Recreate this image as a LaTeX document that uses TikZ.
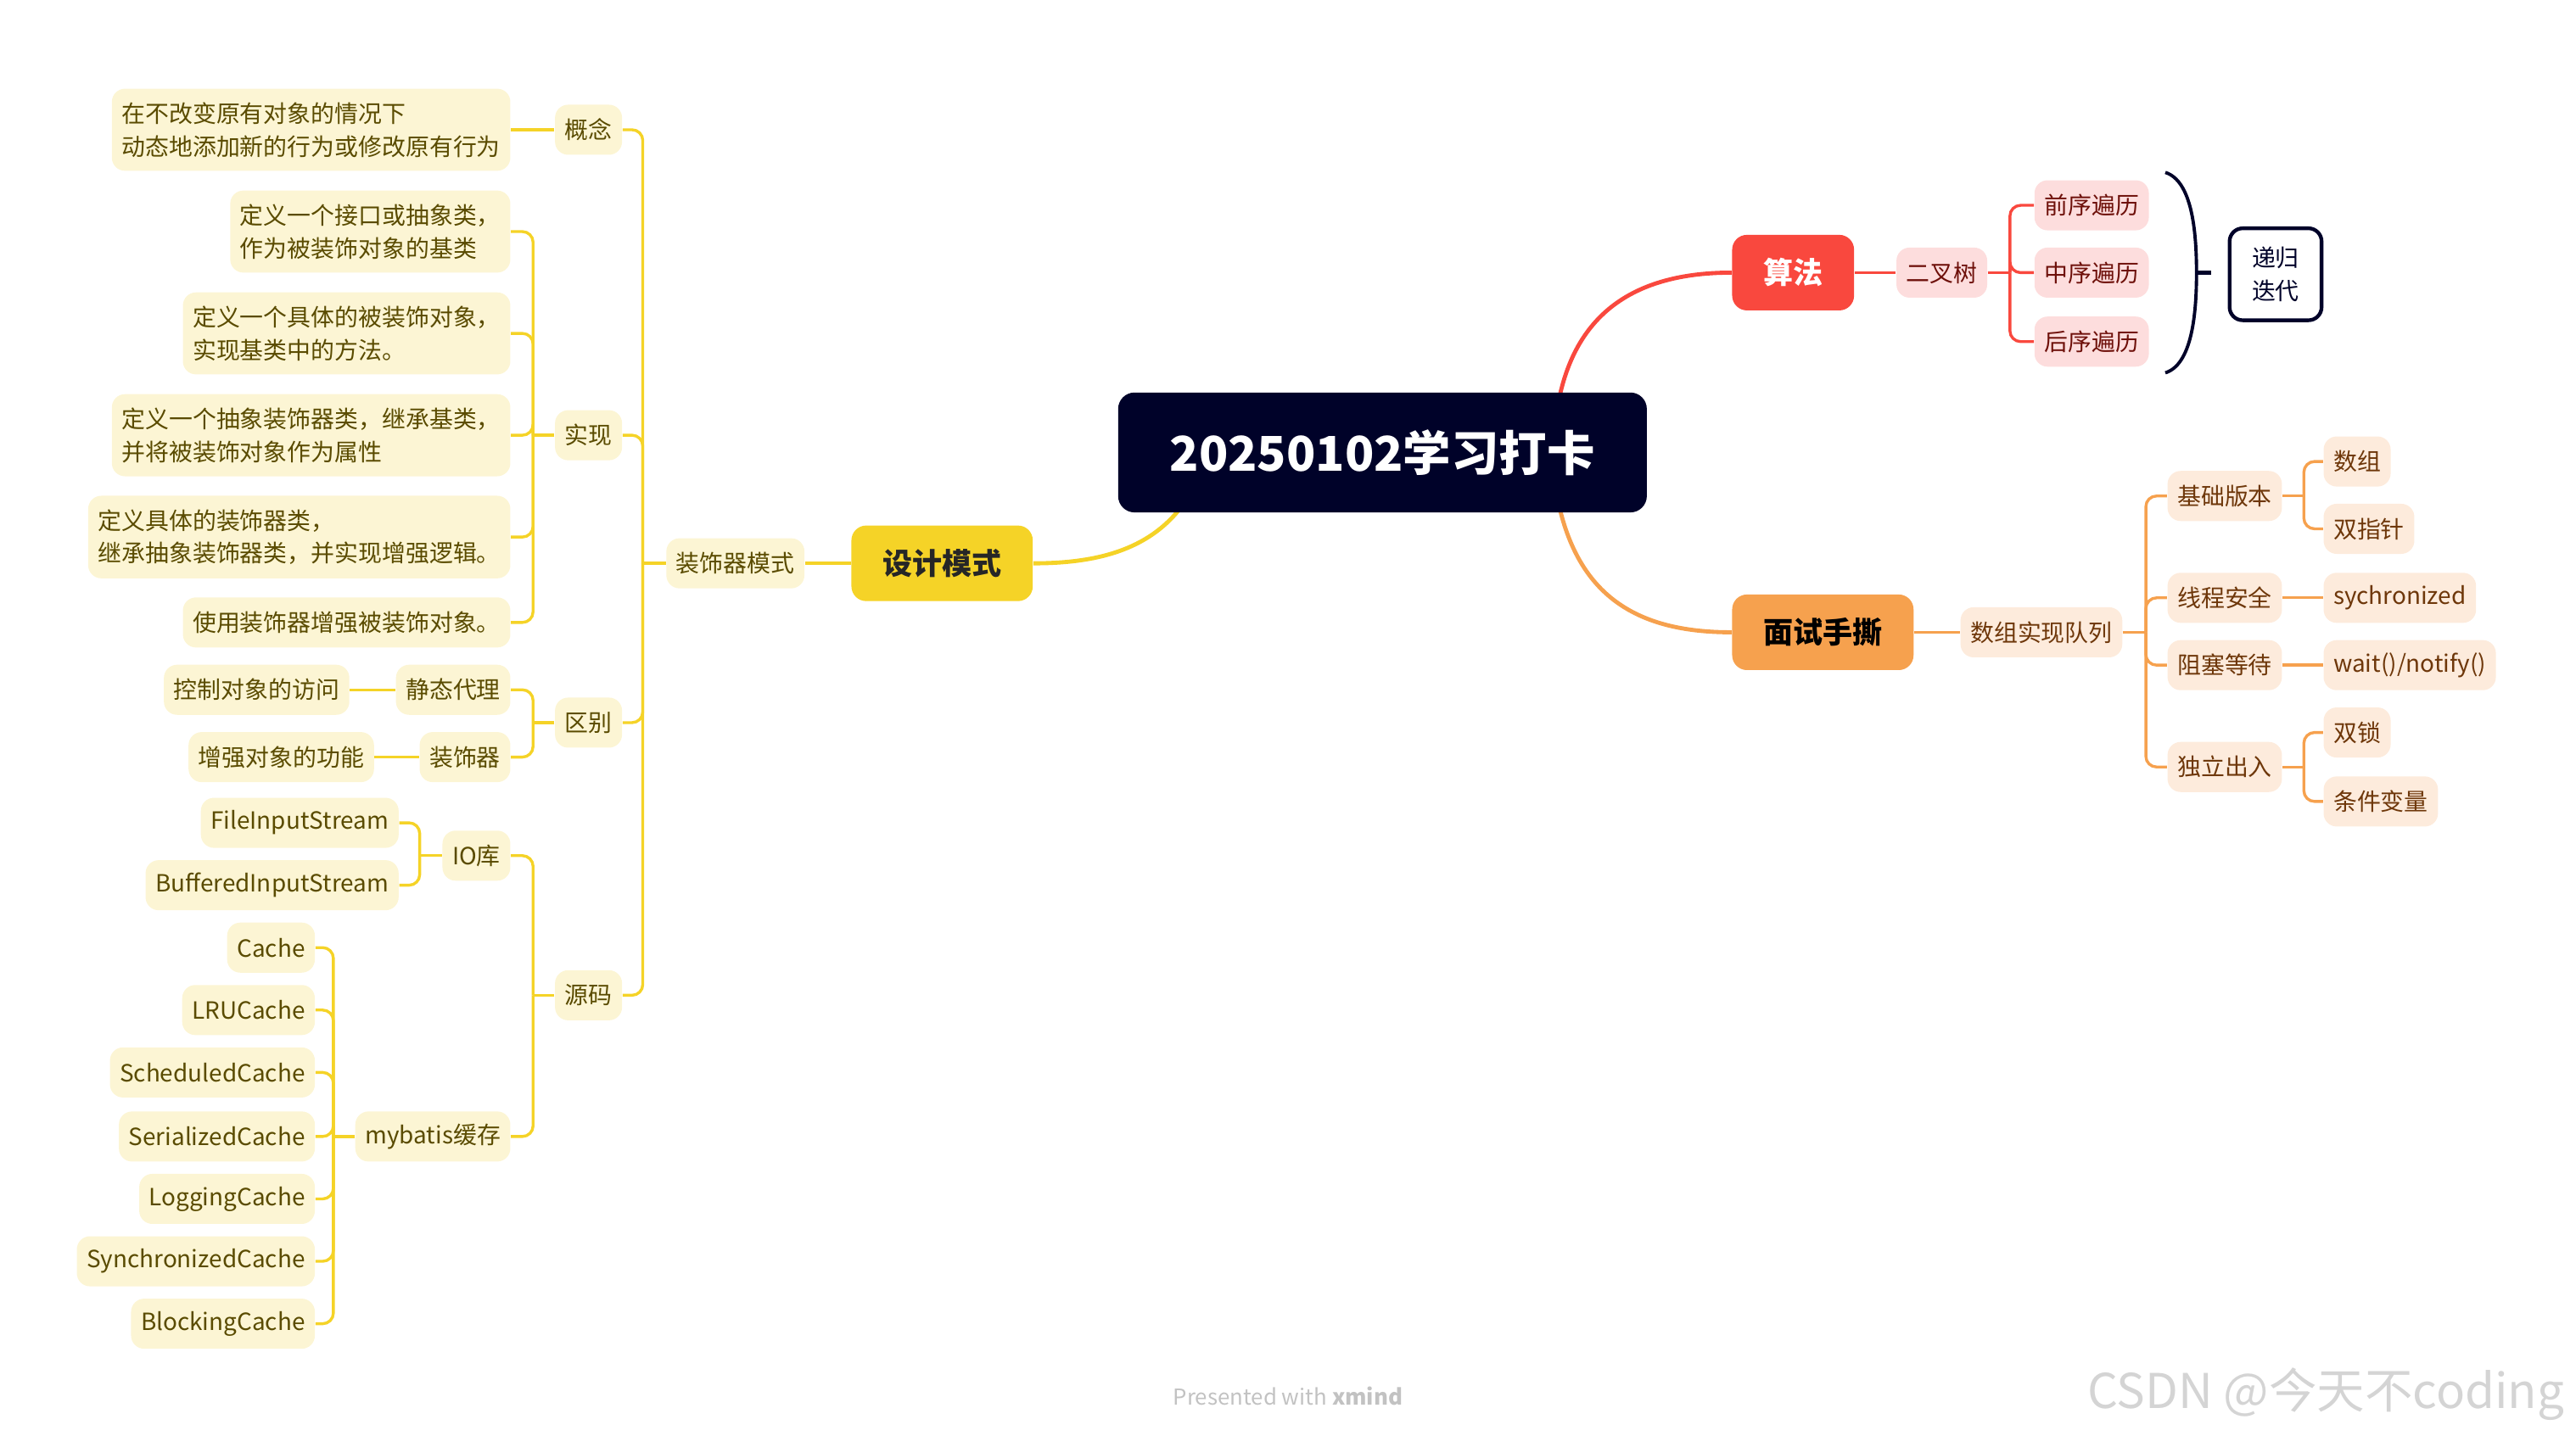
\documentclass[tikz,border=0pt]{standalone}
\usepackage{fontspec}
\setmainfont{Noto Sans CJK SC}
\usepackage{xcolor}
\usepackage{tikz}
\usetikzlibrary{positioning, backgrounds}
\definecolor{rootnavy}{HTML}{000229}
\definecolor{dsyellow}{HTML}{F5D327}
\definecolor{dsfill}{HTML}{FCF5D4}
\definecolor{dstext}{HTML}{5A4B00}
\definecolor{algred}{HTML}{F9483E}
\definecolor{algfill}{HTML}{FDDDDD}
\definecolor{algtext}{HTML}{6E100A}
\definecolor{itvorange}{HTML}{F6A14E}
\definecolor{itvfill}{HTML}{FDEBDC}
\definecolor{itvtext}{HTML}{6E370A}
\definecolor{footgrey}{HTML}{C2C2C2}
\definecolor{markgrey}{HTML}{D4D4D4}

\tikzset{
  topic/.style={rounded corners=1.6mm, inner xsep=1.2mm, inner ysep=0pt,
    minimum height=6.1mm, align=left, font=\fontsize{8.2}{11.4}\selectfont},
  twoline/.style={inner ysep=1.65mm},
  ytopic/.style={topic, fill=dsfill, text=dstext},
  rtopic/.style={topic, fill=algfill, text=algtext},
  otopic/.style={topic, fill=itvfill, text=itvtext},
  maintopic/.style={rounded corners=1.8mm, inner xsep=3.8mm, inner ysep=0pt,
    minimum height=9.2mm, font=\fontsize{10.3}{12}\selectfont\bfseries},
  rootbox/.style={fill=rootnavy, text=white, rounded corners=2mm,
    inner xsep=6.3mm, minimum height=14.6mm, font=\fontsize{16.6}{20}\selectfont\bfseries},
  yline/.style={draw=dsyellow, line width=0.35mm},
  rline/.style={draw=algred, line width=0.35mm},
  oline/.style={draw=itvorange, line width=0.35mm},
  elbow/.style={rounded corners=1.3mm},
  branchline/.style={line width=0.5mm},
}

\begin{document}
\begin{tikzpicture}[x=0.2mm, y=-0.2mm]
  \useasboundingbox (0,0) rectangle (1568,874);

  % central topic
  \node[rootbox] (root) at (841.5,275.5) {20250102学习打卡};

  % main topics
  \node[maintopic, fill=dsyellow, text=black!85, anchor=east] (design) at (629,343) {设计模式};
  \node[maintopic, fill=algred, text=white, anchor=west] (algo) at (1054,166) {算法};
  \node[maintopic, fill=itvorange, text=black, anchor=west] (interview) at (1054,385) {面试手撕};

  \begin{scope}[on background layer]
    \coordinate (ystart) at (726,298);
    \coordinate (rstart) at (947,255);
    \coordinate (ostart) at (947,298);
    \draw[dsyellow, branchline] (ystart) .. controls (706,334) and (670,343) .. (design.east);
    \draw[algred, branchline] (rstart) .. controls (954,200) and (985,166) .. (algo.west);
    \draw[itvorange, branchline] (ostart) .. controls (958,362) and (995,385) .. (interview.west);
  \end{scope}

  % ---- design patterns
  \node[ytopic, anchor=east] (deco) at (490,343) {装饰器模式};
  \draw[yline] (design.west) -- (deco.east);

  \node[ytopic, anchor=east] (concept) at (379,79) {概念};
  \node[ytopic, anchor=east] (impl) at (379,265) {实现};
  \node[ytopic, anchor=east] (diff) at (379,440) {区别};
  \node[ytopic, anchor=east] (src) at (379,606) {源码};
  \draw[yline] (deco.west) -- ++(-14,0) coordinate (deco-j);
  \foreach \c in {concept,impl,diff,src}
    \draw[yline, elbow] (deco-j) |- (\c.east);

  \node[ytopic, twoline, anchor=east] (concepttxt) at (311,79)
    {在不改变原有对象的情况下\\动态地添加新的行为或修改原有行为};
  \draw[yline] (concept.west) -- (concepttxt.east);

  \node[ytopic, twoline, anchor=east] (impl1) at (311,141) {定义一个接口或抽象类，\\作为被装饰对象的基类};
  \node[ytopic, twoline, anchor=east] (impl2) at (311,203) {定义一个具体的被装饰对象，\\实现基类中的方法。};
  \node[ytopic, twoline, anchor=east] (impl3) at (311,265) {定义一个抽象装饰器类，继承基类，\\并将被装饰对象作为属性};
  \node[ytopic, twoline, anchor=east] (impl4) at (311,327) {定义具体的装饰器类，\\继承抽象装饰器类，并实现增强逻辑。};
  \node[ytopic, anchor=east] (impl5) at (311,379) {使用装饰器增强被装饰对象。};
  \draw[yline] (impl.west) -- ++(-13,0) coordinate (impl-j);
  \foreach \c in {impl1,impl2,impl3,impl4,impl5}
    \draw[yline, elbow] (impl-j) |- (\c.east);

  \node[ytopic, anchor=east] (proxy) at (311,420) {静态代理};
  \node[ytopic, anchor=east] (decor) at (311,461) {装饰器};
  \draw[yline] (diff.west) -- ++(-13,0) coordinate (diff-j);
  \foreach \c in {proxy,decor}
    \draw[yline, elbow] (diff-j) |- (\c.east);
  \node[ytopic, anchor=east] (proxyuse) at (213,420) {控制对象的访问};
  \node[ytopic, anchor=east] (decoruse) at (228,461) {增强对象的功能};
  \draw[yline] (proxy.west) -- (proxyuse.east);
  \draw[yline] (decor.west) -- (decoruse.east);

  \node[ytopic, anchor=east] (io) at (311,521) {IO库};
  \node[ytopic, anchor=east] (mybatis) at (311,692) {mybatis缓存};
  \draw[yline] (src.west) -- ++(-13,0) coordinate (src-j);
  \foreach \c in {io,mybatis}
    \draw[yline, elbow] (src-j) |- (\c.east);

  \node[ytopic, anchor=east] (fis) at (243,501) {FileInputStream};
  \node[ytopic, anchor=east] (bis) at (243,539) {BufferedInputStream};
  \draw[yline] (io.west) -- ++(-13.5,0) coordinate (io-j);
  \foreach \c in {fis,bis}
    \draw[yline, elbow] (io-j) |- (\c.east);

  \foreach \n/\y/\t in {c1/577/Cache, c2/615/LRUCache, c3/653/ScheduledCache,
      c4/692/SerializedCache, c5/730/LoggingCache, c6/768/SynchronizedCache,
      c7/806/BlockingCache}
    \node[ytopic, anchor=east] (\n) at (192,\y) {\t};
  \draw[yline] (mybatis.west) -- ++(-13,0) coordinate (mybatis-j);
  \foreach \c in {c1,c2,c3,c4,c5,c6,c7}
    \draw[yline, elbow] (mybatis-j) |- (\c.east);

  % ---- algorithms
  \node[rtopic, anchor=west] (tree) at (1154,166) {二叉树};
  \draw[rline] (algo.east) -- (tree.west);
  \node[rtopic, anchor=west] (pre) at (1238,125) {前序遍历};
  \node[rtopic, anchor=west] (inord) at (1238,166) {中序遍历};
  \node[rtopic, anchor=west] (post) at (1238,208) {后序遍历};
  \draw[rline] (tree.east) -- ++(13.5,0) coordinate (tree-j);
  \foreach \c in {pre,inord,post}
    \draw[rline, elbow] (tree-j) |- (\c.west);

  % summary
  \node[draw=rootnavy, line width=0.45mm, fill=white, rounded corners=1.6mm,
    minimum width=11.2mm, minimum height=11.2mm, inner sep=0pt, align=center,
    text=rootnavy, font=\fontsize{8.2}{11.4}\selectfont, anchor=west] (summ) at (1356,167) {递归\\迭代};
  \coordinate (brtop) at (1318,105);
  \coordinate (brtip) at (1337,166);
  \coordinate (brbot) at (1318,227);
  \draw[rootnavy, line width=0.4mm] (brtop) .. controls (1334,110) and (1337,140) .. (brtip)
    .. controls (1337,192) and (1334,222) .. (brbot);
  \draw[rootnavy, line width=0.45mm] (brtip) -- ++(9,0);

  % ---- interview
  \node[otopic, anchor=west] (queue) at (1193,385) {数组实现队列};
  \draw[oline] (interview.east) -- (queue.west);
  \node[otopic, anchor=west] (basic) at (1319,302) {基础版本};
  \node[otopic, anchor=west] (safe) at (1319,364) {线程安全};
  \node[otopic, anchor=west] (block) at (1319,405) {阻塞等待};
  \node[otopic, anchor=west] (indep) at (1319,467) {独立出入};
  \draw[oline] (queue.east) -- ++(14,0) coordinate (queue-j);
  \foreach \c in {basic,safe,block,indep}
    \draw[oline, elbow] (queue-j) |- (\c.west);

  \node[otopic, anchor=west] (arr) at (1414,281) {数组};
  \node[otopic, anchor=west] (twoptr) at (1414,322) {双指针};
  \draw[oline] (basic.east) -- ++(13,0) coordinate (basic-j);
  \foreach \c in {arr,twoptr}
    \draw[oline, elbow] (basic-j) |- (\c.west);
  \node[otopic, anchor=west] (sync) at (1414,364) {sychronized};
  \draw[oline] (safe.east) -- (sync.west);
  \node[otopic, anchor=west] (wait) at (1414,405) {wait()/notify()};
  \draw[oline] (block.east) -- (wait.west);
  \node[otopic, anchor=west] (dlock) at (1414,446) {双锁};
  \node[otopic, anchor=west] (cond) at (1414,488) {条件变量};
  \draw[oline] (indep.east) -- ++(13,0) coordinate (indep-j);
  \foreach \c in {dlock,cond}
    \draw[oline, elbow] (indep-j) |- (\c.west);

  % footer
  \node[text=footgrey, font=\fontsize{7.6}{9}\selectfont] (credit) at (784,850) {Presented with \textbf{xmind}};
  \node[text=markgrey, font=\fontsize{16.6}{20}\selectfont, anchor=east] (mark) at (1567,849) {CSDN @今天不coding};
\end{tikzpicture}
\end{document}
